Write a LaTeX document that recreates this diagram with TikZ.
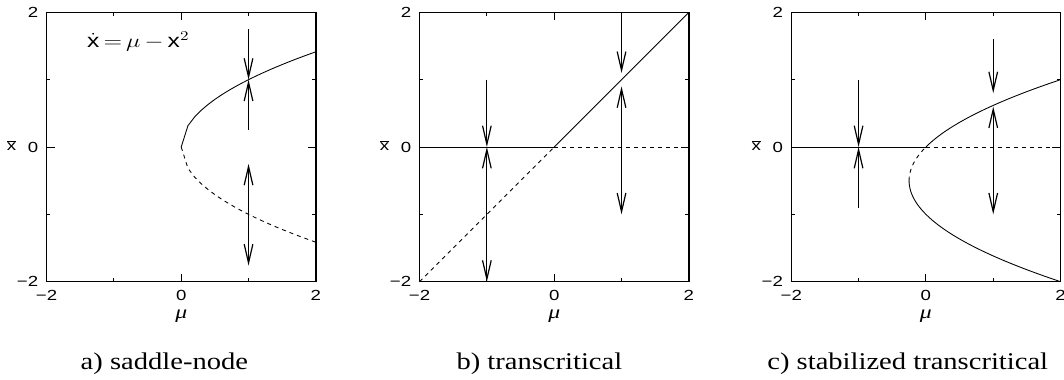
\documentclass[tikz,border=0pt]{standalone}
\usepackage{fontspec}
\setmainfont{Liberation Serif}
\newfontfamily\hv{Liberation Sans}
\usetikzlibrary{arrows.meta}
\newcommand\hs[1]{\scalebox{1.27}[1]{#1}}
\newcommand\hc[1]{\scalebox{1.19}[1]{#1}}
\tikzset{
  frame/.style={line width=1.1pt},
  tickmark/.style={line width=0.7pt},
  curve/.style={line width=0.65pt},
  dsh/.style={curve, dash pattern=on 3pt off 3pt},
  flow/.style={line width=0.75pt, -{Straight Barb[length=14pt,width=6.5pt,line width=0.9pt]}},
  ticklab/.style={inner sep=0pt, font=\hv\fontsize{11}{13}\selectfont},
  axlab/.style={inner sep=0pt, font=\fontsize{14}{16}\selectfont\itshape},
  caplab/.style={inner sep=0pt, anchor=base, font=\fontsize{18}{21}\selectfont},
}
\newcommand\panelframe[1]{%
  \draw[frame] (-2,-2) rectangle (2,2);
  \foreach \t/\l in {-1/0.055,0/0.12,1/0.055}{
    \draw[tickmark] (\t,-2) -- ++(0,\l);
    \draw[tickmark] (\t,2) -- ++(0,-\l);
    \draw[tickmark] (-2,\t) -- ++(\l,0);
    \draw[tickmark] (2,\t) -- ++(-\l,0);
  }
  \node[ticklab, anchor=east] (#1yt2) at (-2.12,2) {\hs{2}};
  \node[ticklab, anchor=east] (#1yt0) at (-2.12,0) {\hs{0}};
  \node[ticklab, anchor=east] (#1ytm) at (-2.12,-2) {\hs{−2}};
  \node[ticklab] (#1xtm) at (-2,-2.20) {\hs{−2}};
  \node[ticklab] (#1xt0) at (0,-2.20) {\hs{0}};
  \node[ticklab] (#1xt2) at (2,-2.20) {\hs{2}};
  \node[ticklab] (#1ylab) at (-2.52,0.02) {\hs{$\overline{\hbox{x}}$}};
  \node[axlab] (#1xlab) at (0,-2.52) {\hs{μ}};
}
\begin{document}
\begin{tikzpicture}[x=0.75pt,y=-0.75pt]
\useasboundingbox (0,0) rectangle (1064,379);

% panel a
\begin{scope}[shift={(181.2,147)}, x=50.5pt, y=50.5pt]
  \panelframe{a}
  \draw[curve] plot[domain=0:2, samples=21] (\x, {sqrt(\x)});
  \draw[dsh] plot[domain=0:2, samples=21] (\x, {-sqrt(\x)});
  \draw[flow] (1,1.75) -- (1,1);
  \draw[flow] (1,0.25) -- (1,1);
  \draw[flow] (1,-1) -- (1,-0.25);
  \draw[flow] (1,-1) -- (1,-1.76);
  \node[ticklab, anchor=base west, font=\hv\fontsize{14.5}{17}\selectfont] (eq) at (-1.40,1.48)
    {\hs{x\,$=$\,$\mu$\,$-$\,x$^{2}$}};
  \fill ([xshift=4.6pt, yshift=10.2pt]eq.base west) circle (0.75pt);
  \node[caplab] (capa) at (-0.25,-3.30) {\hc{a) saddle-node}};
\end{scope}

% panel b
\begin{scope}[shift={(554.2,147)}, x=50.5pt, y=50.5pt]
  \panelframe{b}
  \draw[curve] (-2,0) -- (0,0);
  \draw[dsh] (0,0) -- (2,0);
  \draw[dsh] (-2,-2) -- (0,0);
  \draw[curve] (0,0) -- (2,2);
  \draw[flow] (-1,1) -- (-1,0);
  \draw[flow] (-1,-1) -- (-1,0);
  \draw[flow] (-1,-1) -- (-1,-2);
  \draw[flow] (1,2) -- (1,1.1);
  \draw[flow] (1,0) -- (1,0.9);
  \draw[flow] (1,0) -- (1,-1);
  \node[caplab] (capb) at (-0.22,-3.30) {\hc{b) transcritical}};
\end{scope}

% panel c
\begin{scope}[shift={(925.9,147)}, x=50.5pt, y=50.5pt]
  \panelframe{c}
  \draw[curve] (-2,0) -- (0,0);
  \draw[dsh] (0,0) -- (2,0);
  \draw[curve] plot[domain=0:1, samples=30] ({(\x)*(\x)+(\x)}, \x);
  \draw[dsh] plot[domain=-0.5:0, samples=20] ({(\x)*(\x)+(\x)}, \x);
  \draw[curve] plot[domain=-2:-0.5, samples=40] ({(\x)*(\x)+(\x)}, \x);
  \draw[flow] (-1,1) -- (-1,0);
  \draw[flow] (-1,-0.9) -- (-1,0);
  \draw[flow] (1,1.6) -- (1,0.8);
  \draw[flow] (1,0) -- (1,0.6);
  \draw[flow] (1,0) -- (1,-1);
  \node[caplab] (capc) at (-0.27,-3.30) {\hc{c) stabilized transcritical}};
\end{scope}
\end{tikzpicture}
\end{document}
